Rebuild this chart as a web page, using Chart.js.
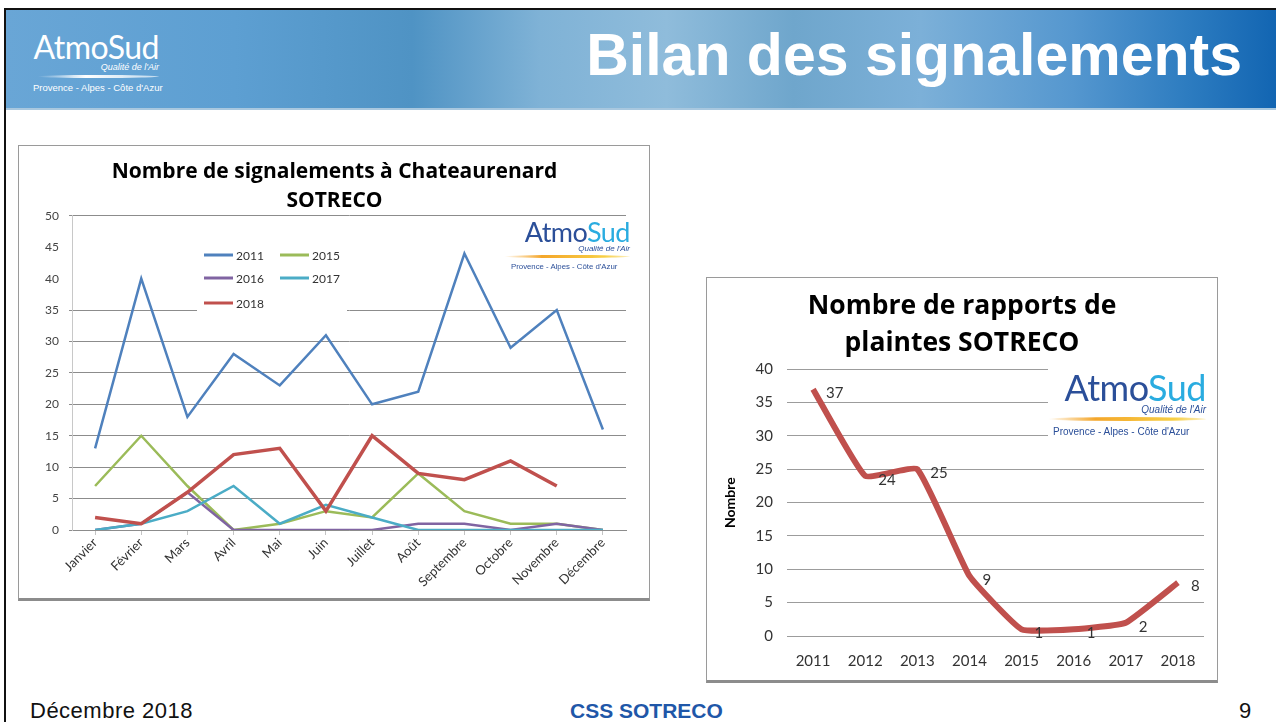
<!DOCTYPE html>
<html lang="fr">
<head>
<meta charset="utf-8">
<title>Bilan des signalements</title>
<script src="https://cdn.jsdelivr.net/npm/chart.js@4.4.1/dist/chart.umd.min.js"></script>
<style>
  body { margin: 0; width: 1276px; height: 722px; overflow: hidden; background: #fff; position: relative; font-family: "Liberation Sans", Arial, sans-serif; }
  .abs { position: absolute; }
  #cadre-haut { left: 4px; top: 8px; width: 1272px; height: 2px; background: #111; }
  #cadre-gauche { left: 4px; top: 8px; width: 2px; height: 714px; background: #111; }
  #bandeau { left: 6px; top: 10px; width: 1270px; height: 98px;
    background: linear-gradient(90deg, #69a6d6 0%, #5d9fd2 18%, #4f93c4 32%, #7fb2d6 42%, #8fbcdb 52%, #6fa6cc 62%, #7cb0d8 72%, #5597cf 84%, #2d7cc0 93%, #1265b2 100%);
    border-bottom: 2px solid #a9c8df; }
  #titre { left: 520px; top: 20px; width: 722px; text-align: right; color: #fff; font-weight: bold; font-size: 59px; line-height: 70px; }
  .logo { position: absolute; text-align: right; }
  .logo .nom { font-family: Lato, "Open Sans", sans-serif; letter-spacing: -0.5px; line-height: 1; }
  .logo .qual { font-style: italic; line-height: 1; }
  .logo .vague { border-radius: 50%; }
  .logo .region { line-height: 1; white-space: nowrap; }
  .boite { position: absolute; box-sizing: border-box; background: #fff; border: 1px solid #9a9a9a; border-bottom: 3px solid #8c8c8c; }
  canvas { position: absolute; }
  .pied { position: absolute; top: 698px; font-size: 22px; line-height: 26px; color: #111; }
</style>
</head>
<body>
<div class="abs" id="bandeau"></div>
<div class="abs" id="cadre-haut"></div>
<div class="abs" id="cadre-gauche"></div>

<!-- logo du bandeau -->
<div class="logo" style="left:33px; top:31px; width:126px; color:#fff;">
  <div class="nom" style="font-size:32px;">AtmoSud</div>
  <div class="qual" style="font-size:9px; margin-top:0;">Qualité de l'Air</div>
  <div class="vague" style="height:3px; margin:3px 0 0 4px; background:linear-gradient(90deg, rgba(255,255,255,0), #fff 40%, rgba(255,255,255,0.6));"></div>
  <div class="region" style="font-size:9.5px; margin-top:5px; text-align:left;">Provence - Alpes - Côte d'Azur</div>
</div>
<div class="abs" id="titre">Bilan des signalements</div>

<!-- graphique mensuel -->
<div class="boite" style="left:18px; top:145px; width:632px; height:456px;"></div>
<canvas id="chart-mois" width="632" height="455" style="left:18px; top:145px;"></canvas>
<div class="logo" style="left:504px; top:216px; width:126px; background:#fff; padding:2px 0;">
  <div class="nom" style="font-size:27px;"><span style="color:#2b4f99">Atmo</span><span style="color:#2aace0">Sud</span></div>
  <div class="qual" style="font-size:8px; color:#2b4f99;">Qualité de l'Air</div>
  <div class="vague" style="height:3px; margin-top:2px; background:linear-gradient(90deg, rgba(245,166,35,0), #f4a62a 30%, #f7cf45 80%, rgba(247,207,69,0.3));"></div>
  <div class="region" style="font-size:7.8px; margin-top:5px; color:#2b4f99; text-align:left; padding-left:7px;">Provence - Alpes - Côte d'Azur</div>
</div>

<!-- graphique annuel -->
<div class="boite" style="left:706px; top:277px; width:512px; height:406px;"></div>
<canvas id="chart-annees" width="512" height="405" style="left:706px; top:277px;"></canvas>
<div class="logo" style="left:1048px; top:367px; width:158px; background:#fff; padding:2px 0 5px 0;">
  <div class="nom" style="font-size:36px;"><span style="color:#2b4f99">Atmo</span><span style="color:#2aace0">Sud</span></div>
  <div class="qual" style="font-size:10px; color:#2b4f99;">Qualité de l'Air</div>
  <div class="vague" style="height:4px; margin-top:2px; background:linear-gradient(90deg, rgba(245,166,35,0), #f4a62a 30%, #f7cf45 80%, rgba(247,207,69,0.3));"></div>
  <div class="region" style="font-size:10px; margin-top:6px; color:#2b4f99; text-align:left; padding-left:5px;">Provence - Alpes - Côte d'Azur</div>
</div>

<div class="pied" style="left:30px; letter-spacing:0.5px;">Décembre 2018</div>
<div class="pied" style="left:570px; font-weight:bold; color:#1f57a8; font-size:21px;">CSS SOTRECO</div>
<div class="pied" style="left:1239px;">9</div>

<script>
// ---- données ----
const mois = ['Janvier', 'Février', 'Mars', 'Avril', 'Mai', 'Juin', 'Juillet', 'Août', 'Septembre', 'Octobre', 'Novembre', 'Décembre'];
const sig2011 = [13, 40, 18, 28, 23, 31, 20, 22, 44, 29, 35, 16];
const sig2015 = [7, 15, 7, 0, 1, 3, 2, 9, 3, 1, 1, 0];
const sig2016 = [0, 1, 6, 0, 0, 0, 0, 1, 1, 0, 1, 0];
const sig2017 = [0, 1, 3, 7, 1, 4, 2, 0, 0, 0, 0, 0];
const sig2018 = [2, 1, 6, 12, 13, 3, 15, 9, 8, 11, 7, null];
const ticksMois = [0, 5, 10, 15, 20, 25, 30, 35, 40, 45, 50];

const annees = ['2011', '2012', '2013', '2014', '2015', '2016', '2017', '2018'];
const rapports = [37, 24, 25, 9, 1, 1, 2, 8];
const ticksAnnees = [0, 5, 10, 15, 20, 25, 30, 35, 40];

const policeTitre = '"Open Sans", Lato, sans-serif';
const policeAxes = 'Lato, "Open Sans", sans-serif';

// légende dessinée dans la zone du graphique, comme sous Excel
const legendeInterne = {
    id: 'legendeInterne',
    afterDraw(chart) {
        const ctx = chart.ctx;
        const pos = [[186, 110], [262, 110], [186, 133], [262, 133], [186, 158]];
        ctx.save();
        ctx.fillStyle = '#fff';
        ctx.fillRect(179, 94, 150, 74);
        ctx.font = '12px ' + policeAxes;
        ctx.textBaseline = 'middle';
        chart.data.datasets.forEach((ds, i) => {
            const [x, y] = pos[i];
            ctx.strokeStyle = ds.borderColor;
            ctx.lineWidth = 3;
            ctx.beginPath();
            ctx.moveTo(x, y);
            ctx.lineTo(x + 29, y);
            ctx.stroke();
            ctx.fillStyle = '#333';
            ctx.fillText(ds.label, x + 32, y + 1);
        });
        ctx.restore();
    }
};

// étiquettes de valeurs à droite des points
const etiquettes = {
    id: 'etiquettes',
    afterDatasetsDraw(chart) {
        const ctx = chart.ctx;
        const meta = chart.getDatasetMeta(0);
        ctx.save();
        ctx.font = '15px ' + policeAxes;
        ctx.fillStyle = '#333';
        ctx.textBaseline = 'middle';
        meta.data.forEach((pt, i) => {
            ctx.fillText(chart.data.datasets[0].data[i], pt.x + 13, pt.y + 4);
        });
        ctx.restore();
    }
};

function serie(label, data, couleur, epaisseur, ordre) {
    return { label, data, borderColor: couleur, backgroundColor: couleur, borderWidth: epaisseur, pointRadius: 0, tension: 0, order: ordre };
}

new Chart(document.getElementById('chart-mois'), {
    type: 'line',
    data: {
        labels: mois,
        datasets: [
            serie('2011', sig2011, '#4f81bd', 2.5, 4),
            serie('2015', sig2015, '#9bbb59', 2.5, 3),
            serie('2016', sig2016, '#8064a2', 2.5, 2),
            serie('2017', sig2017, '#4bacc6', 2.5, 1),
            serie('2018', sig2018, '#c0504d', 3.5, 0)
        ]
    },
    options: {
        responsive: false,
        animation: false,
        layout: { padding: { left: 25, right: 24, top: 0, bottom: 0 } },
        plugins: {
            legend: { display: false },
            tooltip: { enabled: false },
            title: {
                display: true,
                text: ['Nombre de signalements à Chateaurenard', 'SOTRECO'],
                color: '#000',
                font: { family: policeTitre, size: 21, weight: 'bold', lineHeight: 1.4 },
                padding: { top: 12, bottom: 0 }
            }
        },
        scales: {
            x: {
                offset: true,
                grid: { drawOnChartArea: false, drawTicks: true, tickLength: 5, color: '#c4c4c4' },
                border: { color: '#8c8c8c' },
                ticks: { color: '#333', font: { family: policeAxes, size: 13 }, minRotation: 45, maxRotation: 45, padding: 0 },
                afterFit: s => { s.height = 70; }
            },
            y: {
                min: 0,
                max: 50,
                afterBuildTicks: s => { s.ticks = ticksMois.map(v => ({ value: v })); },
                grid: {
                    color: c => (c.tick && (c.tick.value === 40 || c.tick.value === 45)) ? 'rgba(0,0,0,0)' : '#8c8c8c',
                    tickLength: 3
                },
                border: { color: '#c8c8c8' },
                ticks: { color: '#444', font: { family: policeAxes, size: 12 }, padding: 10 },
                afterFit: s => { s.width = 29; }
            }
        }
    },
    plugins: [legendeInterne]
});

new Chart(document.getElementById('chart-annees'), {
    type: 'line',
    data: {
        labels: annees,
        datasets: [{
            label: 'Nombre',
            data: rapports,
            borderColor: '#c0504d',
            borderWidth: 6,
            pointRadius: 0,
            tension: 0.12,
            borderJoinStyle: 'round'
        }]
    },
    options: {
        responsive: false,
        animation: false,
        layout: { padding: { left: 14, right: 14, top: 0, bottom: 0 } },
        plugins: {
            legend: { display: false },
            tooltip: { enabled: false },
            title: {
                display: true,
                text: ['Nombre de rapports de', 'plaintes SOTRECO'],
                color: '#000',
                font: { family: policeTitre, size: 26.5, weight: 'bold', lineHeight: 1.4 },
                padding: { top: 11, bottom: 7 }
            }
        },
        scales: {
            x: {
                offset: true,
                grid: { display: false },
                border: { display: false },
                ticks: { color: '#333', font: { family: policeAxes, size: 15 }, padding: 8 },
                afterFit: s => { s.height = 46; }
            },
            y: {
                min: 0,
                max: 40,
                afterBuildTicks: s => { s.ticks = ticksAnnees.map(v => ({ value: v })); },
                grid: { color: '#9c9c9c', drawTicks: false },
                border: { display: false },
                title: { display: true, text: 'Nombre', color: '#000', font: { family: policeAxes, size: 14, weight: 'bold' }, padding: 2 },
                ticks: { color: '#333', font: { family: policeAxes, size: 15 }, padding: 14 },
                afterFit: s => { s.width = 67; }
            }
        }
    },
    plugins: [etiquettes]
});
</script>
</body>
</html>
